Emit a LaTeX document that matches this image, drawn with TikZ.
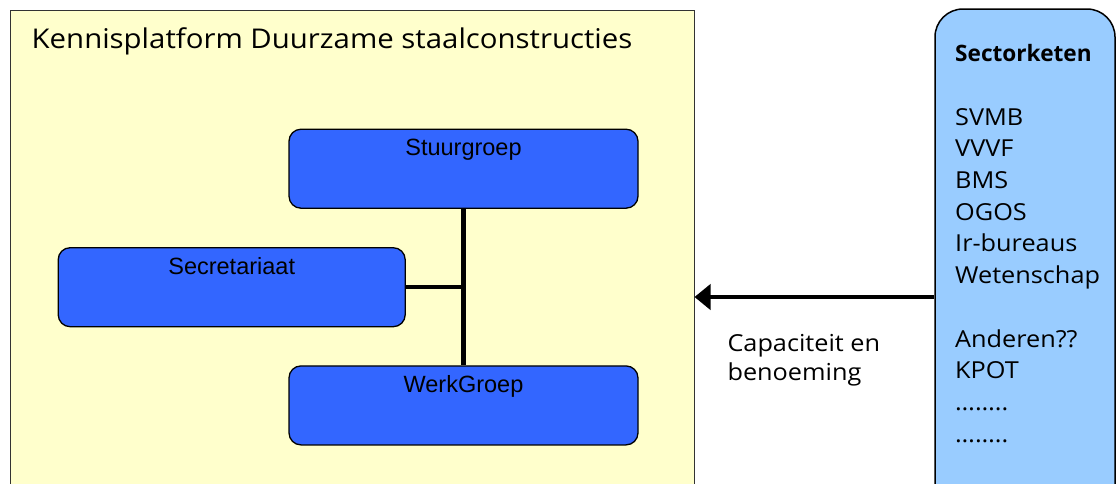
\documentclass[tikz,border=0pt]{standalone}
\usepackage{fontspec}
\usepackage{tikz}
\usetikzlibrary{arrows.meta, positioning, calc}
\newfontfamily\lucida[FakeStretch=1.08]{Open Sans}
\newfontfamily\lucidahead{Open Sans}
\newfontfamily\arial{Liberation Sans}
\definecolor{platformfill}{HTML}{FFFFCC}
\definecolor{groupfill}{HTML}{3366FF}
\definecolor{sectorfill}{HTML}{99CCFF}

\begin{document}
\begin{tikzpicture}[x=1pt, y=-1pt,
		groupbox/.style={draw, line width=1.3pt, fill=groupfill, rounded corners=12pt,
			minimum width=348pt, inner xsep=0pt, inner ysep=0pt,
			text height=26.7pt, text depth=52.3pt,
			font=\arial\fontsize{23.5}{28}\selectfont},
		link/.style={line width=4.5pt}]
		\useasboundingbox (0,0) rectangle (1116,483);
		\clip (0,0) rectangle (1116,483);
		% yellow platform and the sector column
		\node[draw=black!80, line width=1pt, fill=platformfill, minimum width=684pt, minimum height=574pt] (platform) at (352,297) {};
		\node[draw, line width=1.5pt, fill=sectorfill, rounded corners=28pt, minimum width=180pt, minimum height=576pt] (sector) at (1025,297) {};
		\node[anchor=base west, inner sep=0pt, font=\lucida\fontsize{27.2}{32}\selectfont] (title) at (31.5,48.3) {Kennisplatform Duurzame staalconstructies};
		\foreach \n/\t/\x/\y/\w in {
			stuur/Stuurgroep/463.5/168.7/349,
			secr/Secretariaat/231.7/287.2/347,
			werk/WerkGroep/463.5/405.4/349}{
			\node[groupbox, minimum width=\w pt] (\n) at (\x,\y) {\t};
		}
		\draw[link] (stuur.south) -- (werk.north);
		\draw[link] (secr.east) -- (secr.east -| stuur.south);
		% base of a multi-line node is its last line
		\node[anchor=base west, inner sep=0pt, align=left, font=\lucida\fontsize{23.4}{31.7}\selectfont] (members) at (955,442.1)
			{{\lucidahead\fontsize{22.6}{31.7}\selectfont\bfseries Sectorketen}\\[31.7pt]SVMB\\VVVF\\BMS\\OGOS\\Ir-bureaus\\Wetenschap\\[31.7pt]Anderen??\\KPOT\\……..\\……..};
		\draw[link, -{Triangle[length=16pt, width=25pt]}] (sector.west) -- (platform.east);
		\node[anchor=base west, inner sep=0pt, align=left, font=\lucida\fontsize{23.4}{29}\selectfont] (capacity) at (727.3,380.7) {Capaciteit en\\benoeming};
	\end{tikzpicture}
\end{document}
